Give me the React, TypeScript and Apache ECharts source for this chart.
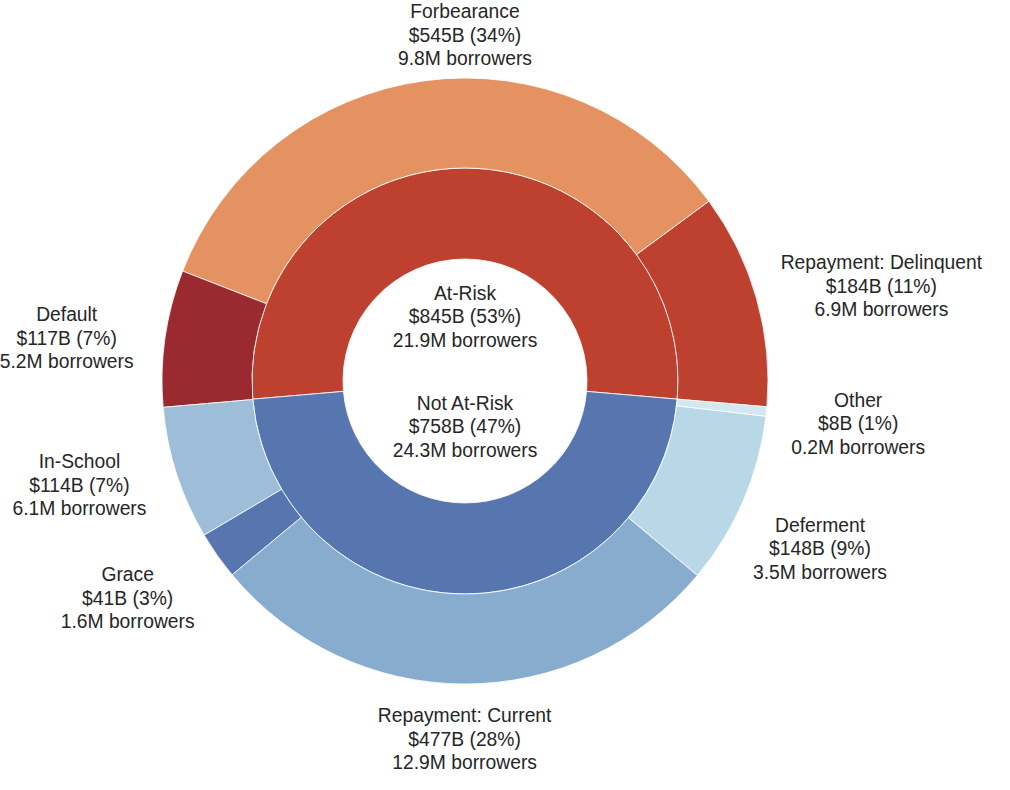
import { useEffect, useRef } from 'react';
import * as echarts from 'echarts';

// ---- data ----
const innerNames = ['At-Risk', 'Not At-Risk'];
const innerValues = [845, 758]; // $B
const innerPercents = [53, 47];
const innerBorrowers = [21.9, 24.3]; // millions

const outerNames = [
  'Repayment: Delinquent',
  'Forbearance',
  'Default',
  'In-School',
  'Grace',
  'Repayment: Current',
  'Deferment',
  'Other',
];
// slice sizes as drawn (the Current slice spans 28% of the ring, i.e. ~447)
const outerValues = [184, 545, 117, 114, 41, 447, 148, 8];
// amounts as printed in the labels
const outerAmountLabels = [184, 545, 117, 114, 41, 477, 148, 8];
const outerPercents = [11, 34, 7, 7, 3, 28, 9, 1];
const outerBorrowers = [6.9, 9.8, 5.2, 6.1, 1.6, 12.9, 3.5, 0.2];

// ---- styles ----
const innerColors = ['#BE4130', '#5776AF'];
const outerColors = ['#BE4130', '#E59262', '#9B2A30', '#9EBDD8', '#5776AF', '#88ACCE', '#B8D8E7', '#D3E8F0'];

// ---- layout ----
const CX = 465;
const CY = 381;
const R_HOLE = 122;
const R_MID = 213;
const R_OUT = 303;
const LABEL_GAP = 20;
const FONT = 'Liberation Sans, Arial, sans-serif';
// small hand adjustments of outer label positions (px), keyed by slice name
const labelNudge: Record<string, [number, number]> = {
  'Repayment: Delinquent': [3, 22],
  Default: [-8, 13],
  'In-School': [-7, -17],
  Grace: [-12, -12],
  Deferment: [-11, 10],
  Other: [2, 3],
};

const sum = (a: number[]) => a.reduce((s, v) => s + v, 0);
// ring starts so that the At-Risk half is centred on the top
const START_ANGLE = 90 - (innerValues[0] / sum(innerValues)) * 180;

function midAngle(values: number[], i: number) {
  const total = sum(values);
  let cum = 0;
  for (let k = 0; k < i; k++) cum += values[k];
  return START_ANGLE + ((cum + values[i] / 2) / total) * 360;
}

const labelText = {
  fontFamily: FONT,
  fontSize: 19.3,
  lineHeight: 23.5,
  color: '#262626',
};

export default function App() {
  const ref = useRef<HTMLDivElement>(null);
  useEffect(() => {
    if (!ref.current) return;
    const chart = echarts.init(ref.current, null, { renderer: 'svg' });
    const border = { borderColor: 'rgba(255,255,255,0.8)', borderWidth: 1 };
    chart.setOption({
      animation: false,
      backgroundColor: '#ffffff',
      series: [
        {
          type: 'pie',
          center: [CX, CY],
          radius: [R_HOLE, R_MID],
          startAngle: START_ANGLE,
          clockwise: false,
          avoidLabelOverlap: false,
          itemStyle: border,
          label: {
            show: true,
            position: 'outside',
            ...labelText,
            formatter: (p: any) =>
              `${innerNames[p.dataIndex]}\n$${innerValues[p.dataIndex]}B (${innerPercents[p.dataIndex]}%)\n${innerBorrowers[p.dataIndex].toFixed(1)}M borrowers`,
          },
          labelLine: { show: false },
          labelLayout: (p: any) => {
            const a = (midAngle(innerValues, p.dataIndex) * Math.PI) / 180;
            const d = 55;
            return {
              x: CX + d * Math.cos(a),
              y: CY - d * Math.sin(a) - 9.5,
              align: 'center',
              verticalAlign: 'middle',
            };
          },
          data: innerNames.map((n, i) => ({
            name: n,
            value: innerValues[i],
            itemStyle: { color: innerColors[i] },
          })),
        },
        {
          type: 'pie',
          center: [CX, CY],
          radius: [R_MID, R_OUT],
          startAngle: START_ANGLE,
          clockwise: false,
          avoidLabelOverlap: false,
          itemStyle: border,
          label: {
            show: true,
            position: 'outside',
            ...labelText,
            formatter: (p: any) =>
              `${outerNames[p.dataIndex]}\n$${outerAmountLabels[p.dataIndex]}B (${outerPercents[p.dataIndex]}%)\n${outerBorrowers[p.dataIndex].toFixed(1)}M borrowers`,
          },
          labelLine: { show: false },
          labelLayout: (p: any) => {
            const a = (midAngle(outerValues, p.dataIndex) * Math.PI) / 180;
            const w = p.labelRect.width;
            const h = p.labelRect.height;
            const c = Math.cos(a);
            const s = Math.sin(a);
            const d = R_OUT + LABEL_GAP + (Math.abs(c) * w) / 2 + (Math.abs(s) * h) / 2;
            let x = CX + d * c;
            let y = CY - d * s;
            if (y - h / 2 < 0) {
              x = CX;
              y = h / 2;
            }
            const nudge = labelNudge[outerNames[p.dataIndex]] || [0, 0];
            return { x: x + nudge[0], y: y + nudge[1], align: 'center', verticalAlign: 'middle' };
          },
          data: outerNames.map((n, i) => ({
            name: n,
            value: outerValues[i],
            itemStyle: { color: outerColors[i] },
          })),
        },
      ],
    });
    return () => chart.dispose();
  }, []);
  return (
    <div
      ref={ref}
      style={{ position: 'absolute', left: 0, top: 0, width: 1010, height: 790 }}
    />
  );
}
